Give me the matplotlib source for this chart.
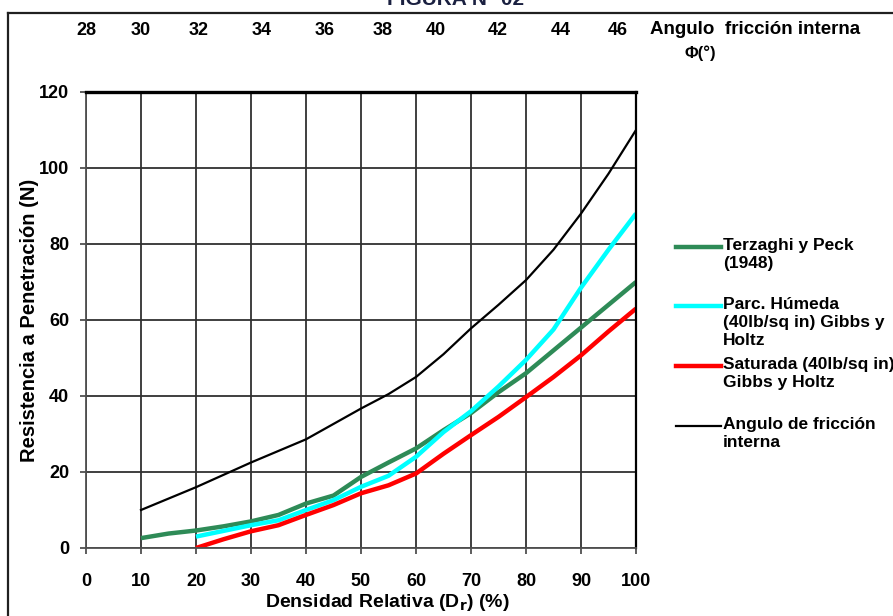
import numpy as np
from matplotlib import pyplot as plt
from matplotlib.lines import Line2D

plt.rcParams['font.family'] = ['Liberation Sans', 'DejaVu Sans']
plt.rcParams['font.weight'] = 'bold'

# -------------------------------------------------------------------------------
# data

dr_angulo = [10, 20, 30, 40, 50, 55, 60, 65, 70, 75, 80, 85, 90, 95, 100]
n_angulo = [10, 16, 22.5, 28.6, 36.7, 40.5, 45, 51, 57.8, 64, 70.5, 78.5, 88, 98.5, 110]

dr_terzaghi = [10, 15, 20, 25, 30, 35, 40, 45, 50, 55, 60, 65, 70, 75, 80, 85, 90, 95, 100]
n_terzaghi = [2.6, 3.8, 4.6, 5.7, 7, 8.7, 11.7, 13.8, 18.7, 22.5, 26.2, 31, 35.5, 41, 46,
              52, 58, 64, 70]

dr_humeda = [20, 25, 30, 35, 40, 45, 50, 55, 60, 65, 70, 75, 80, 85, 90, 95, 100]
n_humeda = [3, 4.5, 6, 7.3, 10, 12.6, 16.1, 19, 24, 30.5, 36, 42.5, 49.5, 57.5, 68.5, 78.5, 88]

dr_saturada = [20, 25, 30, 35, 40, 45, 50, 55, 60, 65, 70, 75, 80, 85, 90, 95, 100]
n_saturada = [0, 2.3, 4.4, 6, 8.7, 11.3, 14.4, 16.5, 19.6, 24.8, 29.7, 34.5, 39.7, 45, 50.7,
              57, 63]

# friction angle scale on top (positions on the Dr axis)
phi_pos = [0, 9.9, 20.4, 32, 43.4, 53.9, 63.6, 74.9, 86.4, 96.7]
phi_labels = ['28', '30', '32', '34', '36', '38', '40', '42', '44', '46']

legend_labels = ['Terzaghi y Peck\n(1948)',
                 'Parc. Húmeda\n(40lb/sq in) Gibbs y\nHoltz',
                 'Saturada (40lb/sq in)\nGibbs y Holtz',
                 'Angulo de fricción\ninterna']
colors = ['#2e8b57', '#00ffff', '#ff0000', '#000000']
widths = [3.2, 3.2, 3.2, 1.6]

# -------------------------------------------------------------------------------
# figure

W, H = 893, 616
fig = plt.figure(figsize=(W / 100, H / 100), dpi=100)
ax = fig.add_axes([86 / W, 1 - 548 / H, 550 / W, 456 / H])

ax.plot(dr_terzaghi, n_terzaghi, color=colors[0], lw=widths[0], solid_capstyle='butt')
ax.plot(dr_humeda, n_humeda, color=colors[1], lw=widths[1], solid_capstyle='butt')
ax.plot(dr_saturada, n_saturada, color=colors[2], lw=widths[2], solid_capstyle='butt')
ax.plot(dr_angulo, n_angulo, color=colors[3], lw=widths[3])

ax.set_xlim(0, 100)
ax.set_ylim(0, 120)
ax.set_xticks(np.arange(0, 101, 10))
ax.set_yticks(np.arange(0, 121, 20))
ax.grid(True, color='#303030', lw=1.3)
ax.set_axisbelow(True)

for side in ['left', 'bottom']:
    ax.spines[side].set_color('#505050')
    ax.spines[side].set_linewidth(1.3)
ax.spines['top'].set_linewidth(2.4)
ax.spines['right'].set_linewidth(1.6)

ax.tick_params(axis='x', direction='out', length=4, width=1.3, color='#505050',
               pad=14, labelsize=13)
ax.tick_params(axis='y', direction='out', length=4, width=1.3, color='#505050',
               pad=8, labelsize=13)

ax.set_xlabel('Densidad Relativa (D$_\\mathbf{r}$) (%)', fontsize=14,
              fontweight='bold')
ax.xaxis.set_label_coords((387 - 86) / 550, -44 / 456)
ax.set_ylabel('Resistencia a Penetración (N)', fontsize=14.5, fontweight='bold')
ax.yaxis.set_label_coords(-47 / 550, 0.5)

# top friction angle scale
top = ax.secondary_xaxis('top')
top.set_xticks(phi_pos)
top.set_xticklabels(phi_labels)
top.tick_params(length=0, pad=38, labelsize=13)
top.spines['top'].set_visible(False)

fig.text(650 / W, 1 - 30 / H, 'Angulo  fricción interna', fontsize=13.5,
         ha='left', va='center')
fig.text(700 / W, 1 - 53 / H, 'Φ(°)', fontsize=12, ha='center', va='center')

# title, cut off at the top edge of the page
fig.text(456 / W, 1 - 5 / H, 'FIGURA N° 02', fontsize=15, color='#1a2040',
         ha='center', va='baseline')

# page frame
fig.add_artist(Line2D([8 / W, 1], [1 - 12.5 / H, 1 - 12.5 / H], color='#202020', lw=1.6))
fig.add_artist(Line2D([8 / W, 8 / W], [0, 1 - 12.5 / H], color='#202020', lw=1.6))

# -------------------------------------------------------------------------------
# legend (handle level with first text line)

legend_y = [247, 306, 366, 426]
for lab, c, lw, y in zip(legend_labels, colors, widths, legend_y):
    yf = 1 - y / H
    fig.add_artist(Line2D([676 / W, 721 / W], [yf, yf], color=c, lw=lw))
    fig.text(723 / W, 1 - (y - 9) / H, lab, fontsize=12.5, ha='left', va='top',
             linespacing=1.25)

fig.savefig('out.png', dpi=100)
